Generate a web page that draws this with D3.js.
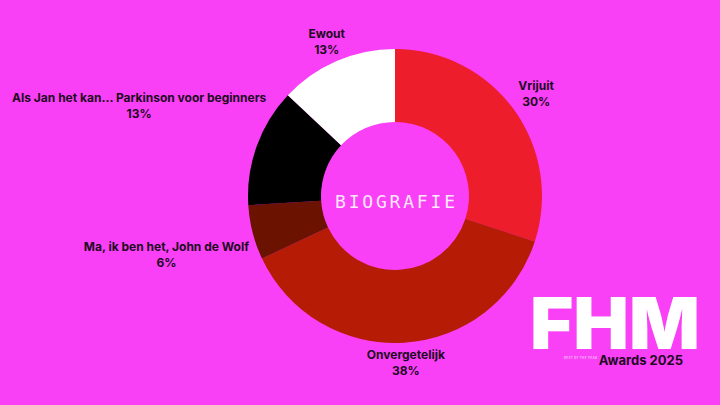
<!DOCTYPE html>
<html>
<head>
<meta charset="utf-8">
<script src="https://cdn.jsdelivr.net/npm/d3@7"></script>
<style>
  html, body { margin: 0; padding: 0; background: #f940f6; }
  svg { display: block; }
</style>
</head>
<body>
<svg id="chart" width="720" height="405"></svg>
<script>
// Poll results: category "Biografie"
const titles = ["Vrijuit", "Onvergetelijk", "Ma, ik ben het, John de Wolf",
                "Als Jan het kan... Parkinson voor beginners", "Ewout"];
const shares = [30, 38, 6, 13, 13];
const sliceColors = ["#ee1d2b", "#b61b06", "#6b1200", "#000000", "#ffffff"];
const centerTitle = "BIOGRAFIE";

// Label placement: offset of each label from its outer-arc anchor
const labelNudge = [[2, -5], [0, -9], [-62, 12], [-94, -36], [0, 0]];

const W = 720, H = 405;
const cx = 395, cy = 196;
const outerR = 147, innerR = 74, labelR = 172;
const inkColor = "#1d0a1f";

const svg = d3.select("#chart");
svg.append("rect").attr("width", W).attr("height", H).attr("fill", "#f940f6");

const data = titles.map((t, i) => ({ title: t, value: shares[i], color: sliceColors[i], nudge: labelNudge[i] }));

const pie = d3.pie().value(d => d.value).sort(null);
const arc = d3.arc().innerRadius(innerR).outerRadius(outerR);
const labelArc = d3.arc().innerRadius(labelR).outerRadius(labelR);

const g = svg.append("g").attr("transform", `translate(${cx},${cy})`);
const arcs = pie(data);

g.selectAll("path.slice")
  .data(arcs)
  .join("path")
  .attr("class", "slice")
  .attr("d", arc)
  .attr("fill", d => d.data.color);

// Outside labels: name + percentage
const labels = g.selectAll("text.lbl")
  .data(arcs)
  .join("text")
  .attr("class", "lbl")
  .attr("text-anchor", "middle")
  .attr("font-family", "Inter, 'Liberation Sans', sans-serif")
  .attr("font-weight", 700)
  .attr("font-size", 12)
  .attr("fill", inkColor)
  .attr("transform", d => {
    const [x, y] = labelArc.centroid(d);
    return `translate(${x + d.data.nudge[0]},${y + d.data.nudge[1]})`;
  });
labels.append("tspan").attr("x", 0).attr("y", 0).text(d => d.data.title);
labels.append("tspan").attr("x", 0).attr("y", 16).text(d => d3.format(".0f")(d.data.value) + "%");

// Center title
const ls = 2.8;
g.append("text")
  .attr("x", ls / 2)
  .attr("y", 12)
  .attr("text-anchor", "middle")
  .attr("font-family", "'DejaVu Sans Mono', monospace")
  .attr("font-size", 18)
  .attr("letter-spacing", ls)
  .attr("fill", "#ffe8ff")
  .text(centerTitle);

// FHM Awards mark
const logo = svg.append("g");
logo.append("text")
  .attr("x", 530)
  .attr("y", 349)
  .attr("font-family", "Inter, sans-serif")
  .attr("font-weight", 900)
  .attr("font-size", 72)
  .attr("textLength", 170)
  .attr("lengthAdjust", "spacingAndGlyphs")
  .attr("fill", "#ffffff")
  .text("FHM");
logo.append("text")
  .attr("x", 564)
  .attr("y", 358.5)
  .attr("font-family", "Inter, sans-serif")
  .attr("font-weight", 700)
  .attr("font-size", 3)
  .attr("textLength", 33)
  .attr("lengthAdjust", "spacing")
  .attr("fill", "#fbb4f9")
  .text("BEST OF THE YEAR");
logo.append("text")
  .attr("x", 683)
  .attr("y", 365)
  .attr("text-anchor", "end")
  .attr("font-family", "Inter, sans-serif")
  .attr("font-weight", 700)
  .attr("font-size", 13)
  .attr("fill", inkColor)
  .text("Awards 2025");
</script>
</body>
</html>
